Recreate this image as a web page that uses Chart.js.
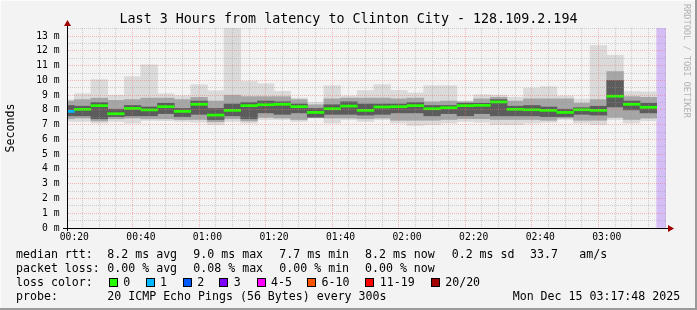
<!DOCTYPE html>
<html><head><meta charset="utf-8">
<script src="https://cdn.jsdelivr.net/npm/chart.js@4.4.1/dist/chart.umd.min.js"></script>
<style>
html,body{margin:0;padding:0;background:#f3f3f3;}
#wrap{position:relative;width:697px;height:310px;overflow:hidden;background:#f3f3f3;font-family:'DejaVu Sans Mono',monospace;}
#c{position:absolute;left:0;top:0;}
.title{position:absolute;left:0;top:11px;width:697px;text-align:center;font-size:13.35px;line-height:16px;white-space:pre;color:#000;}
.t{position:absolute;font-size:11.6px;line-height:14px;white-space:pre;color:#000;}
.box{position:absolute;width:9px;height:9px;border:1px solid #000;box-sizing:border-box;}
.wm{position:absolute;left:681px;top:4px;font-size:8.6px;line-height:12px;color:#b4b4b4;writing-mode:vertical-rl;white-space:pre;}
.edgeR{position:absolute;right:0;top:0;width:2px;height:310px;background:#9a9a9a;}
.edgeB{position:absolute;left:0;bottom:0;width:697px;height:2px;background:#9a9a9a;}
.edgeT{position:absolute;left:0;top:0;width:697px;height:1px;background:#fbfbfb;}
.edgeL{position:absolute;left:0;top:0;width:1px;height:310px;background:#fbfbfb;}
</style></head>
<body>
<div id="wrap">
<canvas id="c" width="697" height="310"></canvas>
<div class="title" id="title"></div>
<div class="wm">RRDTOOL / TOBI OETIKER</div>
<div id="legend"></div>
<div class="edgeT"></div><div class="edgeL"></div><div class="edgeR"></div><div class="edgeB"></div>
</div>
<script>
// ---- data ----
const title = 'Last 3 Hours from latency to Clinton City - 128.109.2.194';
const times = ['00:15','00:20','00:25','00:30','00:35','00:40','00:45','00:50','00:55',
  '01:00','01:05','01:10','01:15','01:20','01:25','01:30','01:35','01:40','01:45','01:50','01:55',
  '02:00','02:05','02:10','02:15','02:20','02:25','02:30','02:35','02:40','02:45','02:50','02:55',
  '03:00','03:05','03:10'];
const medianMs = [7.90,8.04,8.29,7.74,8.10,8.00,8.22,7.90,8.38,7.65,7.97,8.29,8.35,8.38,8.22,7.83,8.08,8.26,7.97,8.20,8.22,8.29,8.08,8.15,8.29,8.31,8.54,8.04,8.01,7.97,7.83,8.01,7.97,8.93,8.38,8.18];
const maxMs = [8.70,9.10,10.05,9.00,10.25,11.06,9.10,8.96,9.70,9.30,13.55,9.93,9.77,9.26,8.80,8.50,9.64,8.94,9.31,9.71,9.32,9.15,9.64,9.64,8.60,9.03,9.00,8.86,9.48,9.57,8.94,8.74,12.36,11.69,9.25,9.22];
const minMs = [7.22,7.22,7.11,7.22,7.11,7.29,7.27,7.22,7.16,7.00,7.22,7.11,7.34,7.34,7.22,7.45,7.11,7.34,7.22,7.34,7.11,6.95,7.00,7.11,7.22,7.16,7.00,7.00,7.11,7.16,7.34,7.11,7.00,7.34,7.11,7.27];
const midHiMs = [8.60,8.70,8.80,8.65,8.70,8.80,8.80,8.70,8.85,8.60,9.00,8.90,8.90,8.90,8.70,8.35,8.75,8.80,8.80,8.80,8.75,8.80,8.55,8.60,8.55,8.75,8.85,8.60,8.75,8.75,8.75,8.45,8.70,10.60,8.90,8.85];
const midLoMs = [7.40,7.45,7.25,7.40,7.45,7.40,7.40,7.35,7.35,7.20,7.40,7.25,7.50,7.45,7.35,7.50,7.45,7.45,7.40,7.45,7.30,7.30,7.30,7.35,7.40,7.40,7.35,7.35,7.35,7.30,7.45,7.30,7.30,7.50,7.35,7.45];
const coreHiMs = [8.30,8.25,8.50,8.05,8.30,8.20,8.45,8.10,8.60,8.10,8.40,8.50,8.60,8.55,8.40,8.10,8.35,8.55,8.40,8.40,8.40,8.50,8.30,8.30,8.45,8.45,8.70,8.25,8.30,8.20,8.05,8.15,8.25,10.00,8.60,8.45];
const coreLoMs = [7.60,7.60,7.40,7.55,7.60,7.60,7.75,7.55,7.70,7.35,7.60,7.40,7.80,7.70,7.80,7.50,7.70,7.70,7.65,7.70,7.80,7.80,7.60,7.75,7.60,7.75,7.60,7.60,7.60,7.55,7.55,7.70,7.65,8.20,8.00,7.80];
const lossCount = [1,0,0,0,0,0,0,0,0,0,0,0,0,0,0,0,0,0,0,0,0,0,0,0,0,0,0,0,0,0,0,0,0,0,0,0];
const unknownStart = '03:15';
const yTickValues = [0,1,2,3,4,5,6,7,8,9,10,11,12,13];
const xLabelTimes = ['00:20','00:40','01:00','01:20','01:40','02:00','02:20','02:40','03:00'];
const lossLegend = ['0','1','2','3','4-5','6-10','11-19','20/20'];
const lossColors = ['#26ff00','#00b8ff','#0059ff','#7e00ff','#ff00ff','#ff5500','#ff0000','#a00000'];
const statsRtt = ['8.2 ms avg','9.0 ms max','7.7 ms min','8.2 ms now','0.2 ms sd','33.7','am/s'];
const statsLoss = ['0.00 % avg','0.08 % max','0.00 % min','0.00 % now'];
const probeText = '20 ICMP Echo Pings (56 Bytes) every 300s';
const stampText = 'Mon Dec 15 03:17:48 2025';

// ---- helpers ----
const toMin = s => { const [h,m] = s.split(':').map(Number); return h*60+m; };
const fmt = v => String(Math.floor(v/60)).padStart(2,'0')+':'+String(v%60).padStart(2,'0');
const centers = times.map(t => toMin(t) + 2.5);
const xMin = 17.8, xMax = 197.8, yMax = 13.55;
const lossColorFor = n => n === 0 ? lossColors[0] : n === 1 ? lossColors[1] : n === 2 ? lossColors[2] : n === 3 ? lossColors[3] : n <= 5 ? lossColors[4] : n <= 10 ? lossColors[5] : n <= 19 ? lossColors[6] : lossColors[7];
const FONT = "'DejaVu Sans Mono', monospace";
const MED_HALF = 0.07;

const band = (lo, hi, color, order) => ({
  data: centers.map((x,i) => ({x, y: [lo[i], hi[i]]})),
  backgroundColor: color, borderWidth: 0, grouped: false, order, clip: 0,
  barPercentage: 1, categoryPercentage: 1
});

const datasets = [
  band(minMs, maxMs, '#dadada', 4),
  band(midLoMs, midHiMs, '#a6a6a6', 3),
  band(coreLoMs, coreHiMs, '#5c5c5c', 2),
  {
    data: centers.map((x,i) => ({x, y: [medianMs[i]-MED_HALF, medianMs[i]+MED_HALF]})),
    backgroundColor: lossCount.map(lossColorFor), borderWidth: 0, grouped: false, order: 1, clip: 0,
    barPercentage: 1, categoryPercentage: 1
  },
  {
    data: [{x: toMin(unknownStart)+2.5, y: [0, yMax]}],
    backgroundColor: '#d5bef6', borderWidth: 0, grouped: false, order: 5, clip: 0,
    barPercentage: 1, categoryPercentage: 1
  }
];

const xTicks = []; for (let v = 20; v < xMax; v += 5) xTicks.push(v);
const yTicks = []; for (let v = 0; v < yMax; v += 0.5) yTicks.push(v);
const xLabelSet = new Set(xLabelTimes.map(toMin));
const yLabelSet = new Set(yTickValues);
const MAJOR = 'rgba(240,110,110,0.45)', MINOR = 'rgba(150,150,150,0.42)';

const arrows = {
  id: 'arrows',
  afterDraw(chart) {
    const {ctx, chartArea: a} = chart;
    ctx.save();
    ctx.strokeStyle = '#000'; ctx.lineWidth = 1;
    ctx.beginPath();
    ctx.moveTo(a.left - 4, a.bottom + 0.5); ctx.lineTo(a.right + 3, a.bottom + 0.5);
    ctx.moveTo(a.left + 0.5, a.bottom + 3); ctx.lineTo(a.left + 0.5, a.top - 3);
    ctx.stroke();
    ctx.fillStyle = '#a00000';
    ctx.beginPath();
    ctx.moveTo(a.right + 2, a.bottom - 3); ctx.lineTo(a.right + 8, a.bottom + 0.5); ctx.lineTo(a.right + 2, a.bottom + 4); ctx.closePath(); ctx.fill();
    ctx.beginPath();
    ctx.moveTo(a.left - 3, a.top - 2); ctx.lineTo(a.left + 0.5, a.top - 8); ctx.lineTo(a.left + 4, a.top - 2); ctx.closePath(); ctx.fill();
    ctx.restore();
  }
};

document.getElementById('title').textContent = title;

new Chart(document.getElementById('c'), {
  type: 'bar',
  data: { datasets },
  options: {
    responsive: false, animation: false, events: [],
    layout: { padding: { left: 0, right: 31, top: 28, bottom: 0 } },
    plugins: { legend: { display: false }, tooltip: { enabled: false }, title: { display: false } },
    scales: {
      x: {
        type: 'linear', min: xMin, max: xMax, offset: false,
        afterBuildTicks: s => { s.ticks = xTicks.map(v => ({value: v})); },
        afterFit: s => { s.height = 82; },
        ticks: { autoSkip: false, maxRotation: 0, minRotation: 0, padding: 4, color: '#000',
          font: { family: FONT, size: 9.7 }, callback: v => xLabelSet.has(v) ? fmt(v) : '' },
        grid: { drawTicks: false, z: 1, lineWidth: 1,
          color: c => (c.tick && xLabelSet.has(c.tick.value)) ? MAJOR : MINOR },
        border: { display: true, color: '#000', width: 1, dash: [1, 1] }
      },
      y: {
        min: 0, max: yMax,
        afterBuildTicks: s => { s.ticks = yTicks.map(v => ({value: v})); },
        afterFit: s => { s.width = 67; },
        ticks: { autoSkip: false, padding: 7.5, color: '#000',
          font: { family: FONT, size: 9.7 }, callback: v => yLabelSet.has(v) ? v + ' m' : '' },
        grid: { drawTicks: false, z: 1, lineWidth: 1,
          color: c => (c.tick && yLabelSet.has(c.tick.value)) ? MAJOR : MINOR },
        border: { display: true, color: '#000', width: 1, dash: [1, 1] },
        title: { display: true, text: 'Seconds', color: '#000', font: { family: FONT, size: 11.6 }, padding: { top: 4, bottom: 0 } }
      }
    }
  },
  plugins: [arrows]
});

// ---- legend rows (HTML text) ----
const L = document.getElementById('legend');
const put = (txt, x, yc) => { const d = document.createElement('div'); d.className = 't'; d.textContent = txt; d.style.left = x + 'px'; d.style.top = (yc - 7) + 'px'; L.appendChild(d); return d; };
const rttX = [107.3,193.3,279.3,365,451.7,530,579.3];
put('median rtt:', 16, 254.3); statsRtt.forEach((s,i) => put(s, rttX[i], 254.3));
put('packet loss:', 16, 268); statsLoss.forEach((s,i) => put(s, rttX[i], 268));
put('loss color:', 16, 282.3);
const boxX = [108.7,145.5,182.7,219.3,256.5,307,365.3,430.7];
lossLegend.forEach((s,i) => {
  const b = document.createElement('div'); b.className = 'box'; b.style.left = boxX[i] + 'px'; b.style.top = '278px'; b.style.background = lossColors[i]; L.appendChild(b);
  put(s, boxX[i] + 14.5, 282.3);
});
put('probe:', 16, 296); put(probeText, 107.3, 296); put(stampText, 512.7, 296);
</script>
</body></html>
